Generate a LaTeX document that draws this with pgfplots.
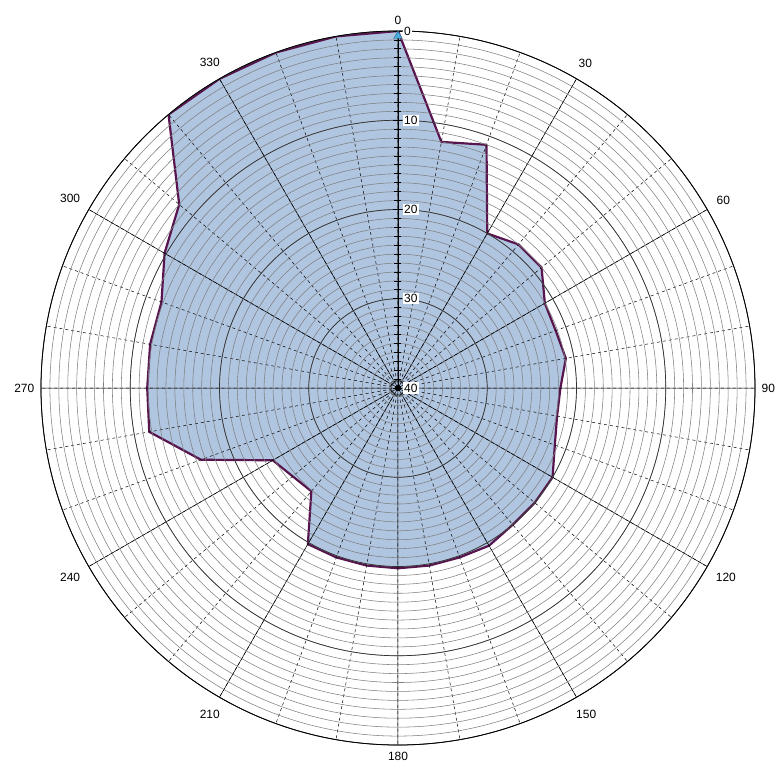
\documentclass[border=0pt]{standalone}
\usepackage{fontspec}
\setmainfont{Liberation Sans}
\usepackage{pgfplots}
\usepgfplotslibrary{polar}
\pgfplotsset{compat=1.18}
\usepackage{pgfplotstable}

% a = bearing (deg, clockwise from north), v = value (0 at rim, 40 at centre)
\pgfplotstableread{
a v
0 0
10 12
20 11
30 20
40 19
50 19
60 21
70 21.2
80 20.9
90 21.8
100 21.9
110 21.3
120 20
130 20
140 20
150 19.6
160 19.8
170 19.8
180 19.8
190 19.8
200 19.8
210 19.8
220 24.9
230 24.6
240 23.8
250 16.5
260 11.7
270 11.9
280 11.8
290 11.8
300 9.8
310 8
320 0
330 0
340 0
350 0
360 0
}\depthdata

\pgfplotstableread{
a v
0 0
}\markerdata

\definecolor{areafill}{RGB}{176,197,224}
\definecolor{areaedge}{RGB}{88,20,78}
\definecolor{mk}{RGB}{70,170,220}

\begin{document}
\begin{tikzpicture}
\useasboundingbox (-398bp,-386bp) rectangle (381bp,388bp);
\begin{polaraxis}[
  at={(0,0)}, anchor=origin,
  scale only axis, width=714bp, height=714bp,
  axis on top,
  xmin=90, xmax=450,
  ymin=0, ymax=40,
  xtick={90,120,...,420},
  xticklabels={0,330,300,270,240,210,180,150,120,90,60,30},
  minor xtick={90,100,...,450},
  ytick={0,10,20,30,40},
  yticklabels={40,30,20,10,0},
  minor ytick={0,1,...,40},
  grid=both,
  major x grid style={black, line width=0.5pt},
  minor x grid style={black, dashed, line width=0.5pt},
  major y grid style={black!80, line width=0.7pt},
  minor y grid style={black!50, line width=0.55pt},
  axis line style={black, line width=0.8pt},
  xtick style={draw=none},
  ytick style={black, line width=0.8pt},
  tick align=center,
  major tick length=9bp,
  minor tick length=7bp,
  /pgf/number format/assume math mode=true,
  ticklabel style={font=\fontsize{12}{13}\selectfont},
  xticklabel style={inner sep=11bp},
  yticklabel style={anchor=west, xshift=9bp, fill=white, inner sep=1.5pt},
]
\addplot[fill=areafill, draw=areaedge, line width=2.2pt, line join=round]
  table[x expr={450-\thisrow{a}}, y expr={40-\thisrow{v}}] {\depthdata} -- cycle;
\addplot[only marks, mark=triangle*, mark size=5pt, mark options={fill=mk, draw=mk!60!black, yshift=-5bp}]
  table[x expr={450-\thisrow{a}}, y expr={40-\thisrow{v}}] {\markerdata};
\end{polaraxis}
\end{tikzpicture}
\end{document}
